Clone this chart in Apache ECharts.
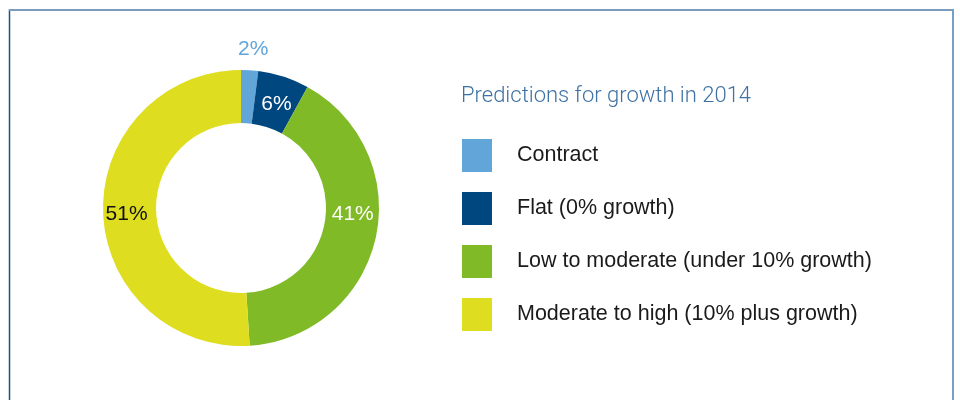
<!DOCTYPE html>
<html>
<head>
<meta charset="utf-8">
<script src="https://cdn.jsdelivr.net/npm/echarts@6/dist/echarts.min.js"></script>
<style>
  html, body { margin: 0; padding: 0; background: #fff; }
  #chart { width: 960px; height: 400px; }
</style>
</head>
<body>
<div id="chart"></div>
<script>
// Growth outlook shares (percent of respondents)
const categories = [
  'Contract',
  'Flat (0% growth)',
  'Low to moderate (under 10% growth)',
  'Moderate to high (10% plus growth)'
];
const shares = [2, 6, 41, 51];
const sliceColors = ['#62a5d9', '#00467f', '#80ba27', '#dedd1f'];
const labelColors = ['#62a5d9', '#ffffff', '#ffffff', '#111111'];
// small nudges so each percentage sits where it reads best
const labelOffsets = [[5, -45], [0, 5], [0, -19], [0, 3]];
const chartTitle = 'Predictions for growth in 2014';

const FONT = '"Liberation Sans", Arial, Helvetica, sans-serif';
const TITLE_FONT = 'Roboto, "Liberation Sans", sans-serif';

const chart = echarts.init(document.getElementById('chart'), null, { renderer: 'canvas' });

const pieData = categories.map((name, i) => ({
  name,
  value: shares[i],
  itemStyle: { color: sliceColors[i] },
  label: { color: labelColors[i], offset: labelOffsets[i] }
}));

chart.setOption({
  animation: false,
  backgroundColor: '#ffffff',
  title: {
    text: chartTitle,
    left: 461,
    top: 85,
    padding: 0,
    textStyle: {
      fontFamily: TITLE_FONT,
      fontSize: 22,
      fontWeight: 300,
      color: '#3f72a3'
    }
  },
  legend: {
    orient: 'vertical',
    left: 462,
    top: 139,
    padding: 0,
    itemWidth: 30,
    itemHeight: 33,
    itemGap: 20,
    icon: 'rect',
    selectedMode: false,
    data: categories,
    textStyle: {
      fontFamily: FONT,
      fontSize: 21.5,
      color: '#1a1a1a',
      padding: [4, 0, 0, 20]
    }
  },
  graphic: [
    { type: 'line', shape: { x1: 9.5, y1: 9, x2: 9.5, y2: 400 }, style: { stroke: '#1d4f86', lineWidth: 1.5 } },
    { type: 'line', shape: { x1: 9, y1: 10, x2: 954, y2: 10 }, style: { stroke: '#7b9cbd', lineWidth: 2 } },
    { type: 'line', shape: { x1: 953, y1: 9, x2: 953, y2: 400 }, style: { stroke: '#78a0c6', lineWidth: 2 } }
  ],
  series: [{
    type: 'pie',
    center: [241, 208],
    radius: [85, 138],
    startAngle: 90,
    clockwise: true,
    avoidLabelOverlap: false,
    silent: true,
    itemStyle: { borderWidth: 0 },
    label: {
      show: true,
      position: 'inside',
      formatter: '{c}%',
      fontFamily: FONT,
      fontSize: 21
    },
    labelLine: { show: false },
    emphasis: { disabled: true },
    data: pieData
  }]
});
</script>
</body>
</html>
